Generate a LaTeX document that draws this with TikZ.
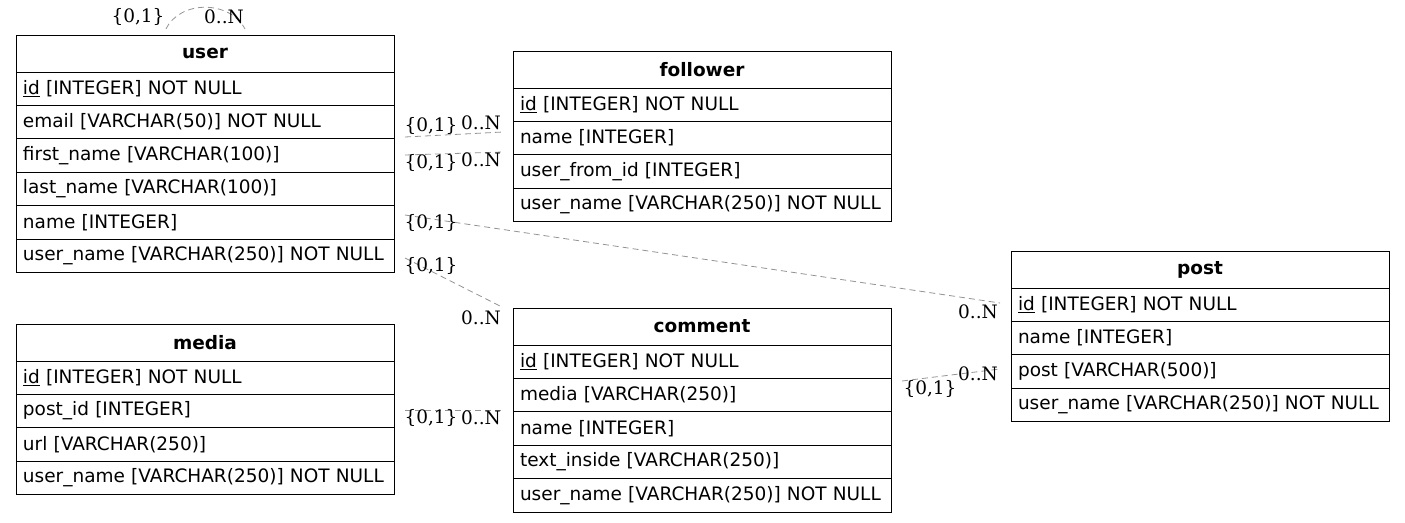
\documentclass[tikz,border=0pt]{standalone}
\usepackage{fontspec}
\setmainfont{DejaVu Sans}
\newfontfamily\lblfont{DejaVu Serif}
\begin{document}
\begin{tikzpicture}[x=1pt,y=-1pt,
  hdr/.style={draw, line width=1pt, anchor=north west, outer sep=0pt, minimum width=378pt, minimum height=37pt, inner xsep=0pt, inner ysep=0pt, font=\fontsize{18.5}{21}\selectfont\bfseries},
  cell/.style={draw, line width=1pt, anchor=north west, outer sep=0pt, text width=364pt, align=left, inner xsep=7pt, inner ysep=0pt, minimum height=33.4pt, font=\fontsize{18.5}{21}\selectfont},
  rel/.style={draw=gray!85, dash pattern=on 6pt off 4pt, line width=0.8pt},
  card/.style={font=\lblfont\fontsize{18.5}{21}\selectfont, inner sep=0pt}
]
\useasboundingbox (0,0) rectangle (1405,522);
% user
\node[hdr] (user) at (16,35) {user};
\node[cell] (user-id) at (user.south west) {\underline{id} [INTEGER] NOT NULL};
\node[cell] (user-email) at (user-id.south west) {email [VARCHAR(50)] NOT NULL};
\node[cell] (user-first) at (user-email.south west) {first\_name [VARCHAR(100)]};
\node[cell] (user-last) at (user-first.south west) {last\_name [VARCHAR(100)]};
\node[cell] (user-name) at (user-last.south west) {name [INTEGER]};
\node[cell] (user-uname) at (user-name.south west) {user\_name [VARCHAR(250)] NOT NULL};
% follower
\node[hdr] (follower) at (513,51) {follower};
\node[cell] (fol-id) at (follower.south west) {\underline{id} [INTEGER] NOT NULL};
\node[cell] (fol-name) at (fol-id.south west) {name [INTEGER]};
\node[cell] (fol-from) at (fol-name.south west) {user\_from\_id [INTEGER]};
\node[cell] (fol-uname) at (fol-from.south west) {user\_name [VARCHAR(250)] NOT NULL};
% post
\node[hdr] (post) at (1011,251) {post};
\node[cell] (post-id) at (post.south west) {\underline{id} [INTEGER] NOT NULL};
\node[cell] (post-name) at (post-id.south west) {name [INTEGER]};
\node[cell] (post-post) at (post-name.south west) {post [VARCHAR(500)]};
\node[cell] (post-uname) at (post-post.south west) {user\_name [VARCHAR(250)] NOT NULL};
% media
\node[hdr] (media) at (16,324) {media};
\node[cell] (media-id) at (media.south west) {\underline{id} [INTEGER] NOT NULL};
\node[cell] (media-post) at (media-id.south west) {post\_id [INTEGER]};
\node[cell] (media-url) at (media-post.south west) {url [VARCHAR(250)]};
\node[cell] (media-uname) at (media-url.south west) {user\_name [VARCHAR(250)] NOT NULL};
% comment
\node[hdr] (comment) at (513,308) {comment};
\node[cell] (com-id) at (comment.south west) {\underline{id} [INTEGER] NOT NULL};
\node[cell] (com-media) at (com-id.south west) {media [VARCHAR(250)]};
\node[cell] (com-name) at (com-media.south west) {name [INTEGER]};
\node[cell] (com-text) at (com-name.south west) {text\_inside [VARCHAR(250)]};
\node[cell] (com-uname) at (com-text.south west) {user\_name [VARCHAR(250)] NOT NULL};

% self loop on user
\coordinate (sl1) at (166,29);
\coordinate (sl2) at (245,29);
\draw[rel] (sl1) .. controls (180,0) and (230,0) .. (sl2);
\node[card] (c1a) at (138,17) {\{0,1\}};
\node[card] (c1b) at (224,17) {0..N};

% user.email -> follower.name
\coordinate (e2a) at (405,137);
\coordinate (e2b) at (503,132);
\draw[rel] (e2a) -- (e2b);
\node[card] (c2a) at (431,126) {\{0,1\}};
\node[card] (c2b) at (481,123) {0..N};

% user.first_name -> follower.user_from_id
\coordinate (e3a) at (405,155);
\coordinate (e3b) at (503,152);
\draw[rel] (e3a) -- (e3b);
\node[card] (c3a) at (431,163) {\{0,1\}};
\node[card] (c3b) at (481,160) {0..N};

% user.name -> post.id
\coordinate (e4a) at (405,215);
\coordinate (e4b) at (1000,303);
\draw[rel] (e4a) -- (e4b);
\node[card] (c4a) at (431,223) {\{0,1\}};
\node[card] (c4b) at (978,312) {0..N};

% user.user_name -> comment
\coordinate (e5a) at (405,258);
\coordinate (e5b) at (500,306);
\draw[rel] (e5a) -- (e5b);
\node[card] (c5a) at (431,266) {\{0,1\}};
\node[card] (c5b) at (481,318) {0..N};

% media.post_id -> comment.name
\coordinate (e6a) at (405,410);
\coordinate (e6b) at (503,410);
\draw[rel] (e6a) -- (e6b);
\node[card] (c6a) at (431,418) {\{0,1\}};
\node[card] (c6b) at (481,418) {0..N};

% comment.media -> post.post
\coordinate (e7a) at (902,381);
\coordinate (e7b) at (1000,369);
\draw[rel] (e7a) -- (e7b);
\node[card] (c7a) at (930,389) {\{0,1\}};
\node[card] (c7b) at (978,374) {0..N};
\end{tikzpicture}
\end{document}
